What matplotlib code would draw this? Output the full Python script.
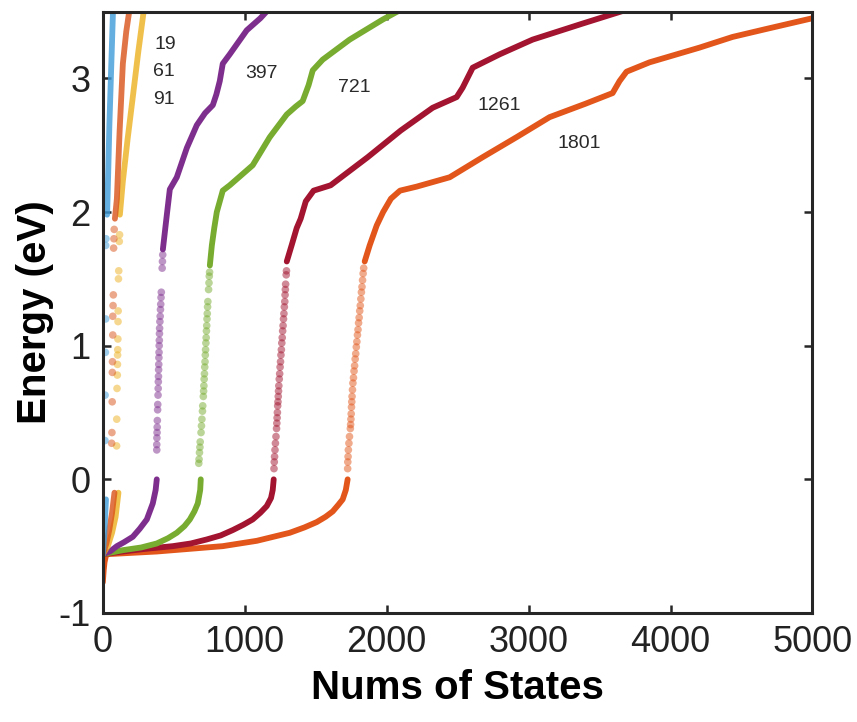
import numpy as np
import matplotlib
matplotlib.use('Agg')
import matplotlib.pyplot as plt

plt.rcParams['font.family'] = ['Liberation Sans', 'DejaVu Sans']
plt.rcParams['axes.unicode_minus'] = False

nan = np.nan

# cluster sizes and colours
sizes = ['19', '61', '91', '397', '721', '1261', '1801']
colors = ['#3d9bd8', '#d95319', '#edb120', '#7e2f8e', '#77ac30', '#a2142f', '#e2561b']

# band states (lower band, break, upper band): x = state index, y = energy (eV)
n19_x = [0, 8, 15, 22, nan, 30, 38, 46, 55, 64, 72]
n19_y = [-0.56, -0.45, -0.30, -0.15, nan, 1.98, 2.30, 2.65, 2.95, 3.25, 3.52]

n61_x = [0, 25, 45, 65, 82, nan, 85, 99, 118, 141, 165, 190]
n61_y = [-0.56, -0.48, -0.38, -0.25, -0.10, nan, 1.95, 2.10, 2.60, 3.11, 3.35, 3.53]

n91_x = [0, 35, 65, 90, 110, nan, 120, 141, 175, 211, 250, 290]
n91_y = [-0.56, -0.50, -0.40, -0.28, -0.10, nan, 1.98, 2.23, 2.55, 2.86, 3.20, 3.52]

n397_x = [0, 50, 99, 150, 211, 260, 310, 352, 372, 380, nan,
          423, 437, 451, 472, 521, 592, 662, 720, 775, 800, 824, 845, 894, 1014, 1110, 1197]
n397_y = [-0.56, -0.54, -0.50, -0.47, -0.43, -0.37, -0.30, -0.18, -0.08, 0.0, nan,
          1.72, 1.85, 1.98, 2.17, 2.26, 2.48, 2.65, 2.74, 2.80, 2.88, 2.98, 3.11, 3.18, 3.36, 3.45, 3.55]

n721_x = [0, 141, 270, 380, 460, 521, 575, 613, 645, 669, 686, 690, nan,
          754, 768, 785, 803, 845, 894, 1056, 1176, 1296, 1360, 1408, 1450, 1479, 1549, 1739, 1972, 2162]
n721_y = [-0.56, -0.53, -0.51, -0.48, -0.44, -0.40, -0.35, -0.30, -0.24, -0.18, -0.08, 0.0, nan,
          1.60, 1.75, 1.88, 2.00, 2.16, 2.20, 2.35, 2.56, 2.73, 2.79, 2.83, 2.95, 3.06, 3.14, 3.29, 3.44, 3.55]

n1261_x = [0, 141, 300, 493, 620, 732, 830, 915, 990, 1056, 1110, 1155, 1185, 1197, 1204, nan,
           1296, 1330, 1366, 1394, 1430, 1485, 1605, 1866, 2099, 2324, 2493, 2535, 2606, 2796, 3028, 3380, 3800]
n1261_y = [-0.56, -0.54, -0.52, -0.50, -0.48, -0.45, -0.42, -0.38, -0.34, -0.30, -0.25, -0.20, -0.14, -0.08, 0.0, nan,
           1.63, 1.75, 1.88, 1.95, 2.08, 2.16, 2.20, 2.41, 2.61, 2.78, 2.86, 2.93, 3.08, 3.18, 3.29, 3.41, 3.55]

n1801_x = [0, 6, 12, 20, 28, 380, 845, 1085, 1317, 1420, 1507, 1570, 1620, 1660, 1690, 1712, 1725, nan,
           1845, 1880, 1930, 1975, 2030, 2094, 2211, 2444, 2676, 2915, 3148, 3400, 3592, 3641, 3690, 3852, 4204, 4437, 4676, 5000]
n1801_y = [-0.77, -0.68, -0.62, -0.58, -0.56, -0.54, -0.50, -0.46, -0.40, -0.36, -0.32, -0.28, -0.24, -0.19, -0.15, -0.08, 0.0, nan,
           1.63, 1.75, 1.90, 2.00, 2.10, 2.16, 2.19, 2.26, 2.41, 2.56, 2.71, 2.81, 2.89, 2.98, 3.05, 3.12, 3.23, 3.31, 3.37, 3.45]

# isolated states inside the gap
g19_x = [22, 20, 20, 18, 16, 15]
g19_y = [1.80, 1.75, 1.20, 0.95, 0.63, 0.29]

g61_x = [80, 78, 76, 74, 72, 70, 70, 68, 67, 66, 64, 62]
g61_y = [1.87, 1.80, 1.73, 1.38, 1.30, 1.22, 1.08, 0.88, 0.80, 0.58, 0.35, 0.27]

g91_x = [118, 116, 112, 110, 108, 107, 106, 105, 104, 103, 102, 100, 98, 97]
g91_y = [1.83, 1.78, 1.56, 1.50, 1.26, 1.18, 1.05, 0.97, 0.93, 0.86, 0.78, 0.68, 0.45, 0.25]

g397_x = [422, 420, 418, 412, 410, 408, 406, 404, 402, 400, 399, 398, 397, 396, 395,
          394, 393, 392, 391, 390, 389, 387, 386, 384, 383, 382, 381, 380, 380]
g397_y = [1.68, 1.63, 1.58, 1.40, 1.36, 1.31, 1.27, 1.22, 1.18, 1.13, 1.09, 1.04, 1.00, 0.95, 0.91,
          0.86, 0.82, 0.77, 0.73, 0.68, 0.63, 0.56, 0.52, 0.44, 0.39, 0.35, 0.31, 0.26, 0.22]

g721_x = [752, 750, 748, 745, 740, 738, 736, 734, 732, 730, 728, 726, 724, 722, 720, 718,
          716, 714, 712, 710, 708, 704, 702, 698, 695, 692, 686, 684, 681, 678, 676]
g721_y = [1.55, 1.52, 1.47, 1.42, 1.33, 1.29, 1.24, 1.20, 1.15, 1.11, 1.06, 1.02, 0.97, 0.93, 0.88, 0.84,
          0.79, 0.75, 0.70, 0.66, 0.62, 0.55, 0.51, 0.45, 0.40, 0.35, 0.28, 0.24, 0.20, 0.15, 0.12]

g1261_x = [1294, 1292, 1288, 1286, 1284, 1282, 1279, 1276, 1273, 1270, 1267, 1264, 1261, 1258, 1255, 1252, 1249,
           1246, 1243, 1240, 1238, 1236, 1234, 1232, 1230, 1228, 1226, 1224, 1220, 1216, 1213, 1210, 1208, 1206]
g1261_y = [1.56, 1.53, 1.46, 1.42, 1.38, 1.33, 1.29, 1.24, 1.20, 1.15, 1.11, 1.06, 1.02, 0.97, 0.93, 0.88, 0.84,
           0.79, 0.75, 0.70, 0.66, 0.62, 0.58, 0.55, 0.50, 0.46, 0.42, 0.38, 0.32, 0.27, 0.22, 0.17, 0.13, 0.08]

g1801_x = [1838, 1834, 1830, 1826, 1822, 1818, 1814, 1810, 1806, 1802, 1798, 1794, 1790, 1786, 1782, 1778, 1774,
           1770, 1766, 1762, 1759, 1756, 1754, 1752, 1750, 1748, 1746, 1744, 1738, 1734, 1730, 1728, 1726, 1725]
g1801_y = [1.58, 1.54, 1.49, 1.44, 1.40, 1.35, 1.30, 1.26, 1.21, 1.17, 1.12, 1.08, 1.03, 0.99, 0.94, 0.90, 0.85,
           0.81, 0.76, 0.72, 0.67, 0.62, 0.58, 0.54, 0.49, 0.45, 0.41, 0.38, 0.32, 0.27, 0.22, 0.17, 0.13, 0.08]

# label positions for each cluster size
label_x = [437, 430, 430, 1120, 1775, 2796, 3359]
label_y = [3.25, 3.05, 2.84, 3.04, 2.93, 2.80, 2.51]

bands = [(n19_x, n19_y), (n61_x, n61_y), (n91_x, n91_y), (n397_x, n397_y),
         (n721_x, n721_y), (n1261_x, n1261_y), (n1801_x, n1801_y)]
gaps = [(g19_x, g19_y), (g61_x, g61_y), (g91_x, g91_y), (g397_x, g397_y),
        (g721_x, g721_y), (g1261_x, g1261_y), (g1801_x, g1801_y)]

fig = plt.figure(figsize=(8.57, 7.22), dpi=100)
ax = fig.add_axes([0.120, 0.151, 0.828, 0.833])

# draw the large clusters first so the small ones sit on top
order = [6, 5, 4, 3, 2, 1, 0]
for i in order:
    bx, by = bands[i]
    gx, gy = gaps[i]
    a = 0.8 if i < 3 else 1.0
    ax.plot(bx, by, color=colors[i], lw=4.2, alpha=a, solid_capstyle='round',
            solid_joinstyle='round', zorder=2)
    ax.scatter(gx, gy, s=30, color=colors[i], alpha=0.5, edgecolors='none', zorder=2)

for i in range(len(sizes)):
    ax.text(label_x[i], label_y[i], sizes[i], fontsize=14, color='#2a2a2a',
            ha='center', va='center', zorder=3)

ax.set_xlim(0, 5000)
ax.set_ylim(-1, 3.5)
ax.set_xticks([0, 1000, 2000, 3000, 4000, 5000])
ax.set_yticks([-1, 0, 1, 2, 3])

for s in ax.spines.values():
    s.set_linewidth(2.2)
    s.set_color('#262626')
ax.tick_params(direction='in', length=6, width=1.8, color='#262626',
               top=True, right=True, labelsize=26, pad=9, labelcolor='#222222')

ax.set_xlabel('Nums of States', fontsize=29, fontweight='bold', labelpad=6)
ax.set_ylabel('Energy (eV)', fontsize=29, fontweight='bold', labelpad=3)

fig.savefig('out.png', dpi=100)
